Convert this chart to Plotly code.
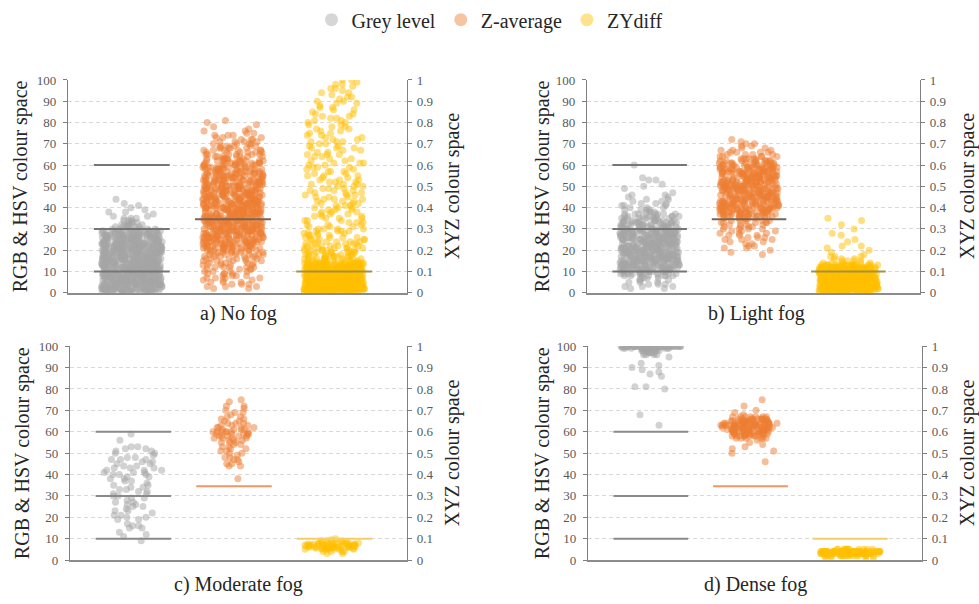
import plotly.graph_objects as go

# ---------------- data ----------------
categories = ["Grey level", "Z-average", "ZYdiff"]
panel_titles = ["a) No fog", "b) Light fog", "c) Moderate fog", "d) Dense fog"]

grey_thresholds = [10, 30, 60]          # RGB & HSV scale
zavg_thresholds = [34.5]                # RGB & HSV scale
zydiff_thresholds = [0.1]               # XYZ scale

# values are given as (level, number of points at that level) tables

# a) No fog
nofog_grey_levels = [0, 1, 2, 3, 4, 5, 6, 7, 8, 9, 10, 11, 12, 13, 14, 15, 16, 17, 18, 19, 20, 21, 22, 23, 24, 25, 26, 27, 28, 29]
nofog_grey_counts = [20, 22, 24, 23, 24, 23, 24, 24, 23, 24, 24, 23, 24, 23, 24, 23, 24, 23, 23, 24, 23, 23, 24, 23, 22, 21, 21, 20, 18, 16]
nofog_grey_extra_levels = [30, 31, 32, 33, 34, 35]
nofog_grey_extra_counts = [8, 6, 5, 4, 3, 3]
nofog_grey_outliers = [36, 36, 37, 38, 38, 39, 40, 41, 42, 44]

nofog_zavg_levels = [20, 21, 22, 23, 24, 25, 26, 27, 28, 29, 30, 31, 32, 33, 34, 35, 36, 37, 38, 39, 40, 41,
                     42, 43, 44, 45, 46, 47, 48, 49, 50, 51, 52, 53, 54, 55, 56, 57, 58, 59, 60, 61, 62]
nofog_zavg_counts = [10, 11, 12, 12, 13, 13, 14, 14, 14, 15, 15, 15, 15, 15, 16, 16, 16, 16, 15, 15, 16, 15,
                     15, 15, 15, 15, 15, 15, 14, 14, 14, 13, 13, 13, 12, 12, 12, 11, 11, 10, 10, 9, 9]
nofog_zavg_extra_levels = [2, 3, 4, 5, 6, 7, 8, 9, 10, 11, 12, 13, 14, 15, 16, 17, 18, 19,
                           63, 64, 65, 66, 67, 68, 69, 70, 71, 72, 73, 74, 75, 76]
nofog_zavg_extra_counts = [2, 3, 3, 3, 3, 4, 4, 4, 4, 4, 5, 5, 5, 5, 6, 6, 7, 8,
                           7, 7, 6, 6, 6, 5, 5, 4, 4, 3, 3, 3, 2, 2]
nofog_zavg_outliers = [77, 78, 79, 80, 81]

nofog_zydiff_levels = [0.00, 0.01, 0.02, 0.03, 0.04, 0.05, 0.06, 0.07, 0.08, 0.09, 0.10, 0.11, 0.12, 0.13, 0.14]
nofog_zydiff_counts = [30, 34, 36, 36, 36, 36, 36, 36, 35, 34, 33, 31, 28, 24, 20]
nofog_zydiff_extra_levels = [0.15, 0.16, 0.17, 0.18, 0.19, 0.20, 0.21, 0.22, 0.23, 0.24, 0.25,
                             0.26, 0.27, 0.28, 0.29, 0.30, 0.31, 0.32, 0.33, 0.34, 0.35, 0.36, 0.37, 0.38,
                             0.39, 0.40, 0.41, 0.42, 0.43, 0.44, 0.45, 0.46, 0.47, 0.48, 0.49, 0.50,
                             0.51, 0.52, 0.53, 0.54, 0.55, 0.56, 0.57, 0.58, 0.59, 0.60, 0.61, 0.62, 0.63,
                             0.64, 0.65, 0.66, 0.67, 0.68, 0.69, 0.70, 0.71, 0.72, 0.73, 0.74, 0.75, 0.76,
                             0.77, 0.78, 0.79, 0.80, 0.81, 0.82, 0.83, 0.84, 0.85, 0.86, 0.87, 0.88, 0.89,
                             0.90, 0.91, 0.92, 0.93, 0.94, 0.95, 0.96, 0.97, 0.98, 0.99, 1.00]
nofog_zydiff_extra_counts = [10, 9, 8, 8, 7, 7, 6, 6, 5, 5, 5,
                             4, 4, 4, 4, 4, 3, 3, 3, 3, 3, 3, 3, 3,
                             3, 3, 3, 3, 3, 3, 3, 3, 3, 3, 3, 3,
                             3, 3, 3, 2, 3, 2, 3, 2, 3, 2, 3, 2, 2,
                             2, 3, 2, 2, 3, 2, 2, 3, 2, 2, 2, 2, 2,
                             2, 2, 2, 2, 2, 2, 2, 2, 1, 2, 2, 1, 2,
                             2, 1, 2, 1, 2, 1, 2, 1, 2, 1, 2]

# b) Light fog
light_grey_levels = [8, 9, 10, 11, 12, 13, 14, 15, 16, 17, 18, 19, 20, 21, 22, 23, 24, 25, 26, 27, 28, 29,
                     30, 31, 32, 33, 34, 35, 36, 37]
light_grey_counts = [8, 10, 13, 16, 18, 18, 18, 18, 18, 18, 18, 18, 18, 18, 18, 18, 18, 18, 18, 18, 18, 18,
                     14, 13, 12, 11, 10, 9, 8, 7]
light_grey_extra_levels = [2, 3, 4, 5, 6, 7, 38, 39, 40, 41, 42, 43, 44, 45]
light_grey_extra_counts = [2, 3, 3, 3, 3, 4, 4, 4, 3, 3, 3, 2, 2, 2]
light_grey_outliers = [46, 46, 47, 49, 50, 51, 53, 53, 54, 60]

light_zavg_levels = [36, 37, 38, 39, 40, 41, 42, 43, 44, 45, 46, 47, 48, 49, 50, 51, 52, 53, 54, 55, 56,
                     57, 58, 59, 60, 61, 62]
light_zavg_counts = [12, 13, 13, 14, 14, 14, 14, 14, 14, 14, 14, 14, 14, 14, 14, 14, 14, 14, 14, 14, 14,
                     14, 13, 12, 11, 10, 9]
light_zavg_extra_levels = [24, 25, 26, 27, 28, 29, 30, 31, 32, 33, 34, 35,
                           63, 64, 65, 66, 67, 68]
light_zavg_extra_counts = [2, 3, 3, 3, 3, 3, 4, 4, 4, 5, 5, 6,
                           6, 5, 4, 4, 3, 2]
light_zavg_outliers = [18, 19, 20, 21, 21, 22, 22, 23, 23, 69, 69, 70, 70, 71, 72]

light_zydiff_levels = [0.00, 0.01, 0.02, 0.03, 0.04, 0.05, 0.06, 0.07, 0.08, 0.09, 0.10, 0.11, 0.12, 0.13]
light_zydiff_counts = [25, 30, 34, 36, 36, 36, 36, 36, 36, 35, 33, 30, 25, 18]
light_zydiff_extra_levels = [0.14, 0.15, 0.16, 0.17]
light_zydiff_extra_counts = [5, 4, 3, 3]
light_zydiff_outliers = [0.18, 0.19, 0.20, 0.21, 0.22, 0.22, 0.24, 0.25, 0.27, 0.28, 0.30, 0.32, 0.34, 0.35]

# c) Moderate fog (individual points)
moderate_grey = [59, 56, 53, 53, 52, 52, 51, 51, 50, 50, 49, 48, 48, 47, 47, 47, 46, 46, 45, 45, 44, 44,
                 43, 43, 43, 42, 42, 42, 41, 41, 41, 40, 40, 40, 39, 39, 38, 38, 37, 37, 36, 35, 35, 34,
                 34, 33, 33, 32, 32, 31, 31, 30, 30, 29, 29, 28, 27, 27, 26, 26, 25, 25, 24, 23, 23, 22,
                 21, 21, 20, 20, 19, 19, 17, 16, 16, 15, 15, 13, 12, 11, 9]
moderate_zavg = [75, 74, 72, 72, 71, 70, 69, 69, 68, 67, 67, 66, 66, 65, 65, 64, 64, 64, 63, 63, 63, 62,
                 62, 62, 62, 61, 61, 61, 61, 60, 60, 60, 60, 60, 60, 60, 59, 59, 59, 59, 59, 58, 58, 58,
                 58, 58, 57, 57, 57, 57, 56, 56, 56, 55, 55, 55, 54, 54, 53, 53, 52, 52, 51, 51, 50, 50,
                 49, 48, 48, 47, 47, 46, 45, 45, 44, 44, 38]
moderate_zydiff = [0.03, 0.03, 0.04, 0.04, 0.04, 0.04, 0.05, 0.05, 0.05, 0.05, 0.05, 0.05, 0.05, 0.05,
                   0.055, 0.055, 0.055, 0.055, 0.055, 0.06, 0.06, 0.06, 0.06, 0.06, 0.06, 0.06, 0.06,
                   0.06, 0.06, 0.065, 0.065, 0.065, 0.065, 0.065, 0.065, 0.065, 0.065, 0.065, 0.065,
                   0.07, 0.07, 0.07, 0.07, 0.07, 0.07, 0.07, 0.07, 0.07, 0.07, 0.075, 0.075, 0.075,
                   0.075, 0.075, 0.075, 0.075, 0.08, 0.08, 0.08, 0.08, 0.08, 0.08, 0.085, 0.085, 0.085,
                   0.09, 0.09, 0.09, 0.095, 0.10]

# d) Dense fog
dense_grey_levels = [96, 97, 98, 99, 100]
dense_grey_counts = [4, 6, 10, 20, 60]
dense_grey_outliers = [63, 68, 80, 81, 81, 86, 87, 88, 89, 90, 91, 92, 95]

dense_zavg_levels = [57, 58, 59, 60, 61, 62, 63, 64, 65, 66, 67]
dense_zavg_counts = [6, 9, 12, 14, 16, 17, 17, 16, 14, 11, 7]
dense_zavg_outliers = [46, 50, 51, 52, 53, 54, 55, 56, 68, 69, 70, 72, 75]

dense_zydiff_levels = [0.02, 0.03, 0.04, 0.05]
dense_zydiff_counts = [15, 45, 50, 12]
dense_zydiff_outliers = [0.00, 0.01, 0.01, 0.015]


def expand(levels, counts):
    out = []
    for v, c in zip(levels, counts):
        out.extend([v] * c)
    return out


panel_data = [
    {"Grey level": [expand(nofog_grey_levels, nofog_grey_counts),
                    expand(nofog_grey_extra_levels, nofog_grey_extra_counts), nofog_grey_outliers],
     "Z-average": [expand(nofog_zavg_levels, nofog_zavg_counts),
                   expand(nofog_zavg_extra_levels, nofog_zavg_extra_counts), nofog_zavg_outliers],
     "ZYdiff": [expand(nofog_zydiff_levels, nofog_zydiff_counts),
                expand(nofog_zydiff_extra_levels, nofog_zydiff_extra_counts)]},
    {"Grey level": [expand(light_grey_levels, light_grey_counts),
                    expand(light_grey_extra_levels, light_grey_extra_counts), light_grey_outliers],
     "Z-average": [expand(light_zavg_levels, light_zavg_counts),
                   expand(light_zavg_extra_levels, light_zavg_extra_counts), light_zavg_outliers],
     "ZYdiff": [expand(light_zydiff_levels, light_zydiff_counts),
                expand(light_zydiff_extra_levels, light_zydiff_extra_counts), light_zydiff_outliers]},
    {"Grey level": [moderate_grey],
     "Z-average": [moderate_zavg],
     "ZYdiff": [moderate_zydiff]},
    {"Grey level": [expand(dense_grey_levels, dense_grey_counts), dense_grey_outliers],
     "Z-average": [expand(dense_zavg_levels, dense_zavg_counts), dense_zavg_outliers],
     "ZYdiff": [expand(dense_zydiff_levels, dense_zydiff_counts), dense_zydiff_outliers]},
]

# ---------------- styling / layout ----------------
FONT = "Liberation Serif, DejaVu Serif, Times New Roman, serif"
W, H = 979, 604
colors = {"Grey level": "#a5a5a5", "Z-average": "#ed7d31", "ZYdiff": "#ffc000"}
line_colors_top = {"Grey level": "#767676", "Z-average": "#7d6354", "ZYdiff": "#a8913c"}
line_colors_bottom = {"Grey level": "#8a8a8a", "Z-average": "#eb9866", "ZYdiff": "#f3cc6b"}

# plot-area boxes in pixels: (left, right, top, bottom)
boxes = [(68, 407, 73, 292), (587, 920, 73, 292), (70, 407, 347, 567), (588, 922, 347, 567)]
title_pos = [(238, 313), (756, 313), (238, 592), (755, 592)]
left_title_x = [20, 542, 22, 542]
right_title_x = [452, 967, 452, 967]

fig = go.Figure()
layout = dict(
    width=W, height=H, margin=dict(l=0, r=0, t=0, b=0),
    paper_bgcolor="white", plot_bgcolor="white",
    font=dict(family=FONT, color="#404040"),
    showlegend=True,
    legend=dict(orientation="h", x=0.5, xanchor="center", y=1 - 11 / H, yanchor="middle",
                font=dict(family=FONT, size=20, color="#262626"), itemsizing="trace"),
    boxmode="overlay",
)
shapes = []
annotations = []

for p in range(4):
    n = p + 1
    xa = "x" if n == 1 else f"x{n}"
    yl = "y" if n == 1 else f"y{2 * n - 1}"
    yr = f"y{2 * n}"
    l, r, t, b = boxes[p]
    xdom = [l / W, r / W]
    ydom = [1 - b / H, 1 - t / H]

    layout["xaxis" if n == 1 else f"xaxis{n}"] = dict(
        domain=xdom, anchor=yl, type="category", categoryorder="array", categoryarray=categories,
        range=[-0.63, 2.72], showline=True, linecolor="#8c8c8c", linewidth=2,
        showticklabels=False, ticks="", showgrid=False, zeroline=False, fixedrange=True)
    layout["yaxis" if n == 1 else f"yaxis{2 * n - 1}"] = dict(
        domain=ydom, anchor=xa, range=[0, 100], dtick=10, tick0=0,
        showline=True, linecolor="#7f7f7f", linewidth=1.3,
        ticks="outside", ticklen=4, tickcolor="#7f7f7f", ticklabelstandoff=4,
        tickfont=dict(family=FONT, size=13, color="#595959"),
        showgrid=True, gridcolor="#d9d9d9", gridwidth=1, griddash="4px,3px",
        zeroline=False, fixedrange=True)
    layout[f"yaxis{2 * n}"] = dict(
        overlaying=yl, side="right", anchor=xa, range=[0, 1], dtick=0.1, tick0=0,
        showline=True, linecolor="#7f7f7f", linewidth=1.3,
        ticks="outside", ticklen=4, tickcolor="#7f7f7f", ticklabelstandoff=2,
        tickfont=dict(family=FONT, size=13, color="#595959"),
        showgrid=False, zeroline=False, fixedrange=True)

    for cat in categories:
        yaxis = yr if cat == "ZYdiff" else yl
        for vals in panel_data[p][cat]:
            fig.add_trace(go.Box(
                y=vals, name=cat, xaxis=xa, yaxis=yaxis, width=0.6,
                boxpoints="all", jitter=1, pointpos=0,
                fillcolor="rgba(0,0,0,0)", line=dict(width=0, color="rgba(0,0,0,0)"),
                whiskerwidth=0,
                marker=dict(color=colors[cat], opacity=0.5, size=7, line=dict(width=0)),
                showlegend=False, hoverinfo="y"))

    # threshold lines
    lc = line_colors_top if p < 2 else line_colors_bottom
    for idx, (cat, ths, yref) in enumerate([("Grey level", grey_thresholds, yl),
                                             ("Z-average", zavg_thresholds, yl),
                                             ("ZYdiff", zydiff_thresholds, yr)]):
        for v in ths:
            shapes.append(dict(type="line", xref=xa, yref=yref, x0=idx - 0.375, x1=idx + 0.375,
                               y0=v, y1=v, line=dict(color=lc[cat], width=2), layer="above"))

    # titles
    tx, ty = title_pos[p]
    annotations.append(dict(text=panel_titles[p], x=tx / W, y=1 - ty / H, xref="paper", yref="paper",
                            xanchor="center", yanchor="middle", showarrow=False,
                            font=dict(family=FONT, size=20, color="#262626")))
    yc = 1 - ((t + b) / 2) / H
    annotations.append(dict(text="RGB & HSV colour space", x=left_title_x[p] / W, y=yc,
                            xref="paper", yref="paper", xanchor="center", yanchor="middle",
                            textangle=-90, showarrow=False,
                            font=dict(family=FONT, size=20, color="#262626")))
    annotations.append(dict(text="XYZ colour space", x=right_title_x[p] / W, y=yc,
                            xref="paper", yref="paper", xanchor="center", yanchor="middle",
                            textangle=-90, showarrow=False,
                            font=dict(family=FONT, size=20, color="#262626")))

# legend entries (circles)
for cat in categories:
    fig.add_trace(go.Scatter(x=[None], y=[None], mode="markers", name=cat, xaxis="x", yaxis="y",
                             marker=dict(color=colors[cat], size=13, opacity=0.45)))

layout["shapes"] = shapes
layout["annotations"] = annotations
fig.update_layout(**layout)

fig.write_html("out.html", config={"displayModeBar": False},
               post_script="document.body.style.margin='0';document.body.style.overflow='hidden';")
